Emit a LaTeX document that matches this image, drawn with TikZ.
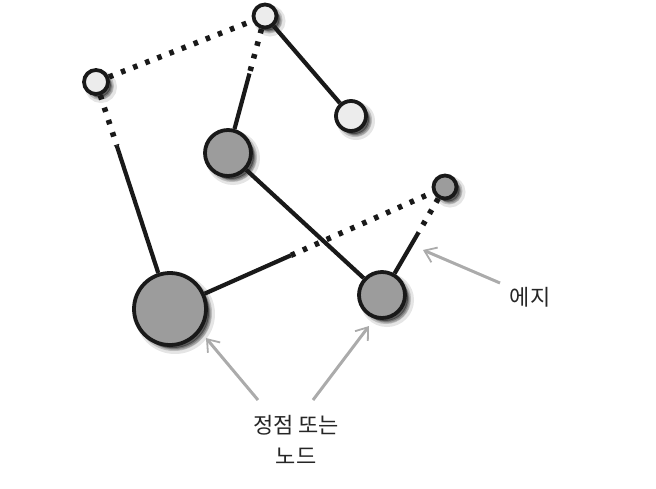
\documentclass[tikz,border=0pt]{standalone}
\usepackage{fontspec}
\newfontfamily\kr{Noto Sans CJK KR}
\usetikzlibrary{arrows.meta,calc}
\definecolor{nodegray}{HTML}{9C9C9C}
\definecolor{nodewhite}{HTML}{ECECEC}
\definecolor{arrgray}{HTML}{ABABAB}
\tikzset{
  x=1pt,y=-1pt,
  vtx/.style={circle,draw=black!90,line width=3.8pt,inner sep=0pt,
    preaction={fill=black,opacity=0.15,transform canvas={shift={(5pt,-5pt)}},draw=black,line width=8pt,draw opacity=0.10},
    preaction={fill=black,opacity=0.25,transform canvas={shift={(4pt,-4pt)}},draw=black,line width=4pt,draw opacity=0.18},
    preaction={fill=black,opacity=0.40,transform canvas={shift={(3pt,-3pt)}}}},
  wvtx/.style={vtx,fill=nodewhite},
  gvtx/.style={vtx,fill=nodegray},
  edge/.style={line width=4.2pt,black!90},
  dotedge/.style={line width=5.5pt,black!90,dash pattern=on 4.5pt off 8.5pt},
  pointer/.style={line width=3pt,arrgray,-{Straight Barb[length=11pt,width=16pt,line width=1.8pt]}},
  lbl/.style={font=\kr\fontsize{22}{31}\selectfont,black!85,align=center}
}
\begin{document}
\begin{tikzpicture}
\useasboundingbox (0,0) rectangle (656,488);
% nodes
\node[wvtx,minimum size=24pt] (A) at (96,82) {};
\node[wvtx,minimum size=23pt] (B) at (265,16) {};
\node[wvtx,minimum size=30pt] (C) at (351,116) {};
\node[gvtx,minimum size=46pt] (D) at (228,153) {};
\node[gvtx,minimum size=23pt] (E) at (445,187) {};
\node[gvtx,minimum size=72pt] (F) at (170,309) {};
\node[gvtx,minimum size=46pt] (G) at (382,295) {};
% split points
\coordinate (bd) at ($(B)!0.42!(D)$);
\coordinate (af) at ($(A)!0.28!(F)$);
\coordinate (fe) at ($(F)!0.44!(E)$);
\coordinate (eg) at ($(E)!0.42!(G)$);
% edges
\draw[dotedge] (A) -- (B);
\draw[edge] (B) -- (C);
\draw[dotedge] (B) -- (bd);
\draw[edge] (bd) -- (D);
\draw[dotedge] (A) -- (af);
\draw[edge] (af) -- (F);
\draw[edge] (D) -- (G);
\draw[edge] (F) -- (fe);
\draw[dotedge] (fe) -- (E);
\draw[dotedge] (E) -- (eg);
\draw[edge] (eg) -- (G);
% labels
\node[lbl] (vl) at (296,440) {정점 또는\\노드};
\node[lbl] (el) at (530,297) {에지};
% pointers
\coordinate (p1) at (206,338);
\coordinate (p2) at (369,326);
\coordinate (p3) at (423,250);
\draw[pointer] (258,400) -- (p1);
\draw[pointer] (313,400) -- (p2);
\draw[pointer] (500,283) -- (p3);
\end{tikzpicture}
\end{document}
